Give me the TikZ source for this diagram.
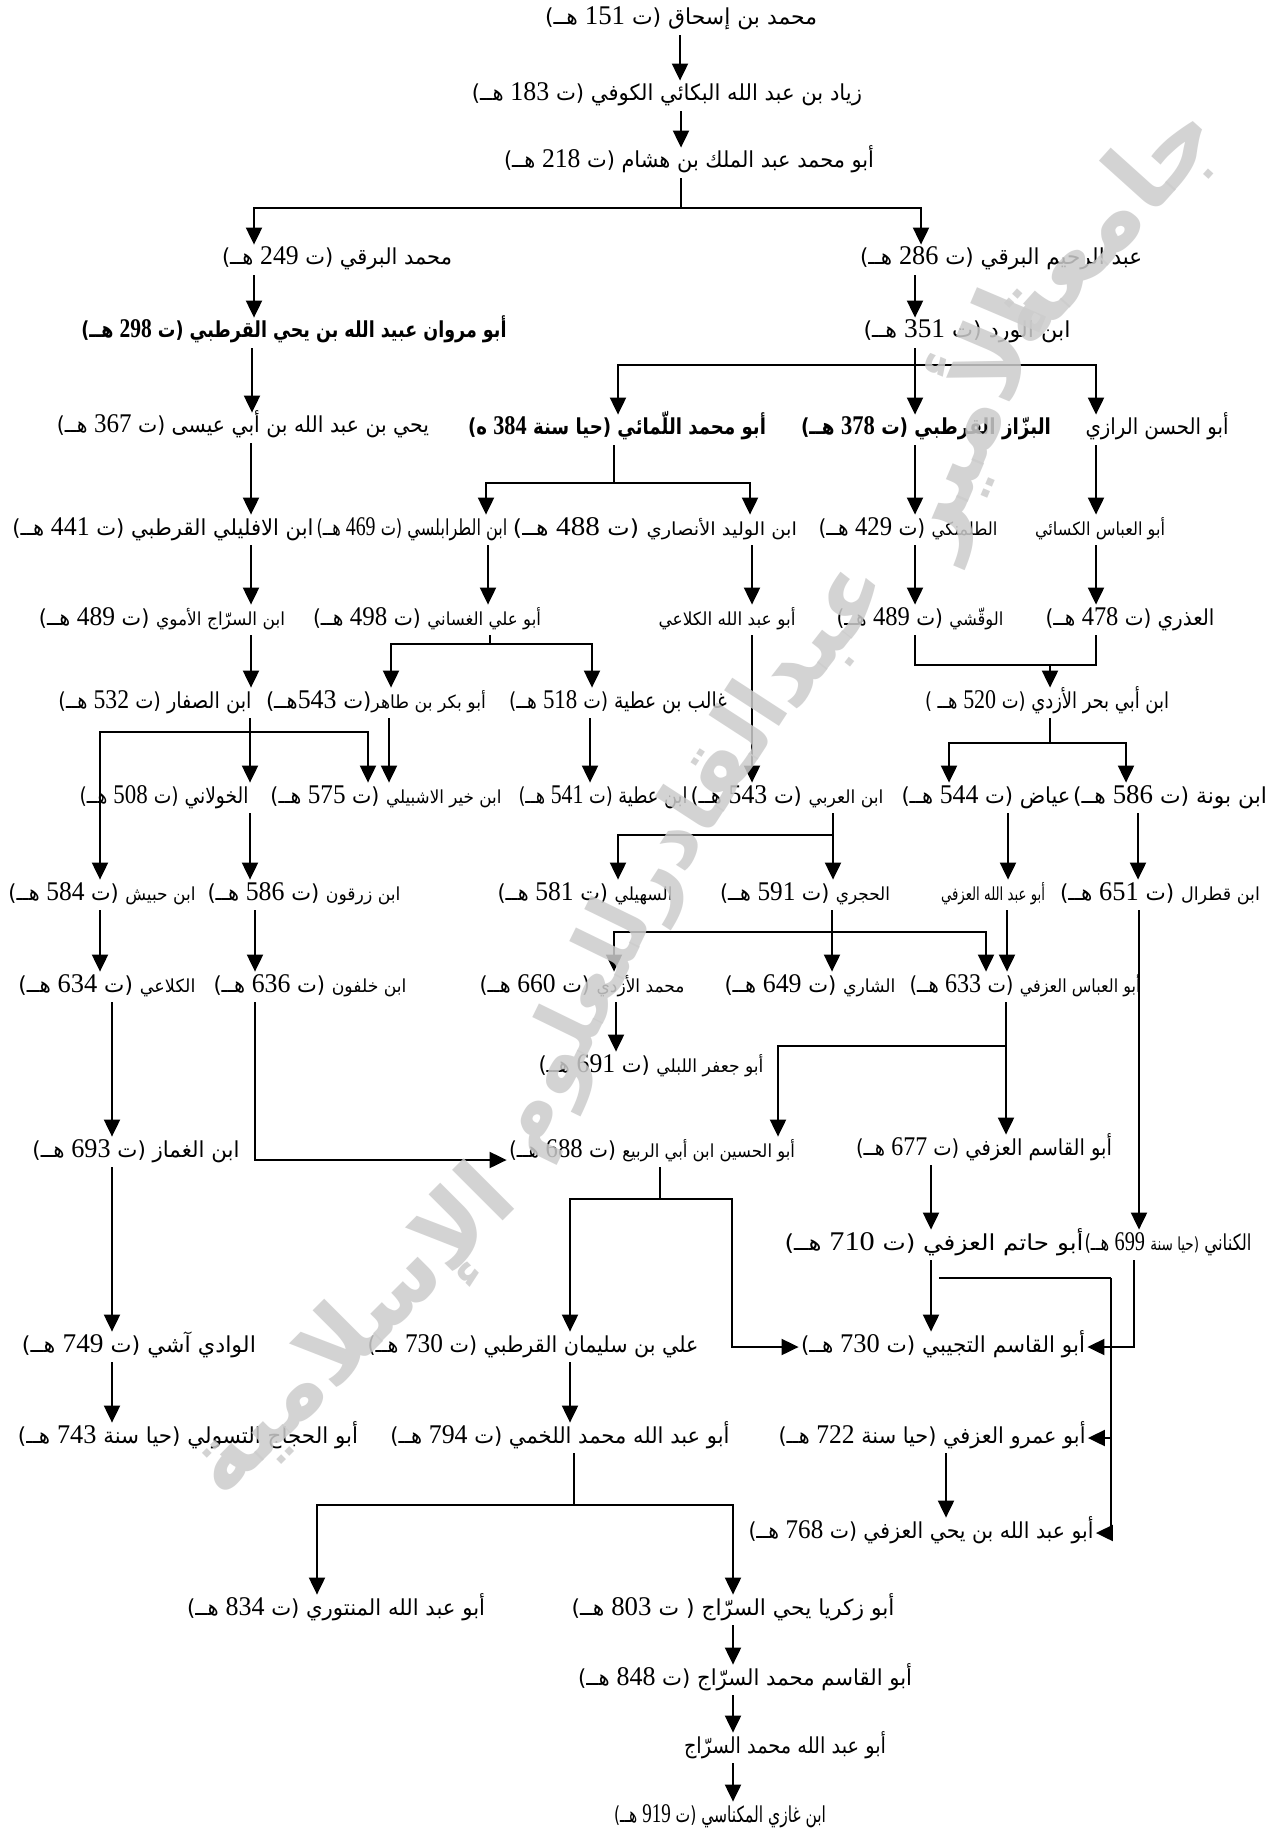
\documentclass[tikz,border=0pt]{standalone}
\usepackage{fontspec}
\usepackage{graphicx}
\TeXXeTstate=1
\newfontfamily\arfont[Script=Arabic]{DejaVu Sans}
\newfontfamily\latfont{Liberation Serif}
\usetikzlibrary{arrows.meta}
\newdimen\upx \upx=0.5pt
\newcommand\arN[2]{\resizebox{#1\upx}{\height}{\arfont #2}}
\newcommand\dg[1]{{\latfont\fontsize{13.5}{14}\selectfont #1}}
\newcommand\dte[1]{(ت \dg{#1} هــ)}
\newcommand\smf{\fontsize{9}{11}\selectfont}
\begin{document}
\begin{tikzpicture}[x=0.5pt,y=-0.5pt,
  nm/.style={inner sep=1pt, text height=9pt, text depth=4pt, font=\fontsize{11}{13}\selectfont},
  ln/.style={line width=1pt},
  arr/.style={line width=1pt, -{Triangle[width=8pt,length=8.5pt]}},
  wm/.style={text=black!20, text opacity=0.85, inner sep=0pt}]
\useasboundingbox (0,0) rectangle (1276,1834);
\fill[white] (0,0) rectangle (1276,1834);

% nodes
\node[nm] (n1) at (681,20) {\arN{272}{\beginR محمد بن إسحاق \dte{151}\endR}};
\node[nm] (n2) at (667,96) {\arN{390}{\beginR زياد بن عبد الله البكائي الكوفي \dte{183}\endR}};
\node[nm] (n3) at (689,163) {\arN{370}{\beginR أبو محمد عبد الملك بن هشام \dte{218}\endR}};
\node[nm] (barqi) at (337,260) {\arN{230}{\beginR محمد البرقي \dte{249}\endR}};
\node[nm] (rahim) at (1001,260) {\arN{282}{\beginR عبد الرحيم البرقي \dte{286}\endR}};
\node[nm] (marwan) at (294,333) {\arN{425}{\bfseries\beginR أبو مروان عبيد الله بن يحي القرطبي \dte{298}\endR}};
\node[nm] (ward) at (967,333) {\arN{207}{\beginR ابن الورد \dte{351}\endR}};
\node[nm] (yahya1) at (243,428) {\arN{372}{\beginR يحي بن عبد الله بن أبي عيسى \dte{367}\endR}};
\node[nm] (lamai) at (617,430) {\arN{298}{\bfseries\beginR أبو محمد اللّمائي (حيا سنة \dg{384} ه)\endR}};
\node[nm] (bazzaz) at (926,430) {\arN{250}{\bfseries\beginR البزّاز القرطبي \dte{378}\endR}};
\node[nm] (razi) at (1157,430) {\arN{143}{\beginR أبو الحسن الرازي\endR}};
\node[nm] (ifl) at (163,530) {\arN{301}{\beginR ابن الافليلي القرطبي \dte{441}\endR}};
\node[nm] (tarab) at (412,530) {\arN{191}{\beginR ابن الطرابلسي \dte{469}\endR}};
\node[nm] (walid) at (655,530) {\arN{284}{\beginR {\smf ابن الوليد الأنصاري} \dte{488}\endR}};
\node[nm] (talam) at (908,530) {\arN{179}{\beginR {\smf الطلمنكي} \dte{429}\endR}};
\node[nm] (kisai) at (1100,530) {\arN{130}{\smf\beginR أبو العباس الكسائي\endR}};
\node[nm] (sarraj1) at (162,620) {\arN{246}{\beginR {\smf ابن السرّاج الأموي} \dte{489}\endR}};
\node[nm] (ghassani) at (427,620) {\arN{228}{\beginR {\smf أبو علي الغساني} \dte{498}\endR}};
\node[nm] (kalai1) at (727,620) {\arN{137}{\smf\beginR أبو عبد الله الكلاعي\endR}};
\node[nm] (waqqashi) at (920,620) {\arN{167}{\beginR {\smf الوقّشي} \dte{489}\endR}};
\node[nm] (udhri) at (1130,620) {\arN{169}{\beginR العذري \dte{478}\endR}};
\node[nm] (saffar) at (155,703) {\arN{193}{\beginR ابن الصفار \dte{532}\endR}};
\node[nm] (tahir) at (376,703) {\arN{220}{\beginR {\smf أبو بكر بن طاهر}(ت \dg{543}هــ)\endR}};
\node[nm] (ghalib) at (618,703) {\arN{218}{\beginR غالب بن عطية \dte{518}\endR}};
\node[nm] (bahr) at (1047,703) {\arN{244}{\beginR ابن أبي بحر الأزدي (ت \dg{520} هــ )\endR}};
\node[nm] (khawlani) at (164,798) {\arN{169}{\beginR الخولاني \dte{508}\endR}};
\node[nm] (khayr) at (386,798) {\arN{231}{\beginR {\smf ابن خير الاشبيلي} \dte{575}\endR}};
\node[nm] (atiyya) at (603,798) {\arN{169}{\beginR ابن عطية \dte{541}\endR}};
\node[nm] (arabi) at (787,798) {\arN{193}{\beginR {\smf ابن العربي} \dte{543}\endR}};
\node[nm] (iyad) at (986,798) {\arN{169}{\beginR عياض \dte{544}\endR}};
\node[nm] (bawna) at (1170,798) {\arN{194}{\beginR ابن بونة \dte{586}\endR}};
\node[nm] (hubaysh) at (102,895) {\arN{187}{\beginR {\smf ابن حبيش} \dte{584}\endR}};
\node[nm] (zarqun) at (304,895) {\arN{193}{\beginR {\smf ابن زرقون} \dte{586}\endR}};
\node[nm] (suhayli) at (585,895) {\arN{175}{\beginR {\smf السهيلي} \dte{581}\endR}};
\node[nm] (hajri) at (805,895) {\arN{170}{\beginR {\smf الحجري} \dte{591}\endR}};
\node[nm] (azafi1) at (993,895) {\arN{104}{\smf\beginR أبو عبد الله العزفي\endR}};
\node[nm] (qatral) at (1160,895) {\arN{200}{\beginR {\smf ابن قطرال} \dte{651}\endR}};
\node[nm] (kalai2) at (107,987) {\arN{177}{\beginR {\smf الكلاعي} \dte{634}\endR}};
\node[nm] (khalfun) at (310,987) {\arN{193}{\beginR {\smf ابن خلفون} \dte{636}\endR}};
\node[nm] (azdi) at (582,987) {\arN{205}{\beginR {\smf محمد الأزدي} \dte{660}\endR}};
\node[nm] (shari) at (810,987) {\arN{171}{\beginR {\smf الشاري} \dte{649}\endR}};
\node[nm] (abbas) at (1025,987) {\arN{231}{\beginR {\smf أبو العباس العزفي} \dte{633}\endR}};
\node[nm] (labli) at (651,1067) {\arN{225}{\beginR {\smf أبو جعفر اللبلي} \dte{691}\endR}};
\node[nm] (ghammaz) at (136,1152) {\arN{207}{\beginR ابن الغماز \dte{693}\endR}};
\node[nm] (husayn) at (652,1152) {\arN{286}{\beginR {\smf أبو الحسين ابن أبي الربيع} \dte{688}\endR}};
\node[nm] (qasim) at (984,1150) {\arN{256}{\beginR أبو القاسم العزفي \dte{677}\endR}};
\node[nm] (kinani) at (1168,1245) {\arN{167}{\beginR الكناني {\smf (حيا سنة} \dg{699} هــ)\endR}};
\node[nm] (hatim) at (934,1245) {\arN{299}{\beginR أبو حاتم العزفي \dte{710}\endR}};
\node[nm] (wadi) at (139,1347) {\arN{234}{\beginR الوادي آشي \dte{749}\endR}};
\node[nm] (sulayman) at (533,1347) {\arN{331}{\beginR علي بن سليمان القرطبي \dte{730}\endR}};
\node[nm] (tujibi) at (943,1347) {\arN{284}{\beginR أبو القاسم التجيبي \dte{730}\endR}};
\node[nm] (tasuli) at (188,1438) {\arN{340}{\beginR أبو الحجاج التسولي (حيا سنة \dg{743} هــ)\endR}};
\node[nm] (lakhmi) at (560,1438) {\arN{339}{\beginR أبو عبد الله محمد اللخمي \dte{794}\endR}};
\node[nm] (amr) at (932,1438) {\arN{307}{\beginR أبو عمرو العزفي (حيا سنة \dg{722} هــ)\endR}};
\node[nm] (yahyaazafi) at (921,1533) {\arN{345}{\beginR أبو عبد الله بن يحي العزفي \dte{768}\endR}};
\node[nm] (manturi) at (336,1610) {\arN{298}{\beginR أبو عبد الله المنتوري \dte{834}\endR}};
\node[nm] (zakariya) at (733,1610) {\arN{323}{\beginR أبو زكريا يحي السرّاج ( ت \dg{803} هــ)\endR}};
\node[nm] (qasimsarraj) at (745,1680) {\arN{334}{\beginR أبو القاسم محمد السرّاج \dte{848}\endR}};
\node[nm] (abdallahsarraj) at (785,1748) {\arN{202}{\beginR أبو عبد الله محمد السرّاج\endR}};
\node[nm] (ghazi) at (720,1817) {\arN{212}{\beginR ابن غازي المكناسي \dte{919}\endR}};

% connectors
\draw[arr] (n1.south -| 680,0) -- (n2.north -| 680,0);
\draw[arr] (n2.south -| 681,0) -- (n3.north -| 681,0);
\coordinate (j1) at (681,208);
\draw[ln] (n3.south -| j1) -- (j1);
\draw[arr] (j1) -| (barqi.north -| 254,0);
\draw[arr] (j1) -| (rahim.north -| 921,0);
\draw[arr] (barqi.south -| 254,0) -- (marwan.north -| 254,0);
\draw[arr] (rahim.south -| 915,0) -- (ward.north -| 915,0);
\draw[arr] (marwan.south -| 252,0) -- (yahya1.north -| 252,0);
\coordinate (j2) at (915,365);
\draw[arr] (ward.south -| j2) -- (bazzaz.north -| j2);
\draw[arr] (j2) -| (lamai.north -| 618,0);
\draw[arr] (j2) -| (razi.north -| 1096,0);
\draw[arr] (yahya1.south -| 251,0) -- (ifl.north -| 251,0);
\coordinate (j3) at (614,483);
\draw[ln] (lamai.south -| j3) -- (j3);
\draw[arr] (j3) -| (tarab.north -| 486,0);
\draw[arr] (j3) -| (walid.north -| 750,0);
\draw[arr] (bazzaz.south -| 915,0) -- (talam.north -| 915,0);
\draw[arr] (razi.south -| 1096,0) -- (kisai.north -| 1096,0);
\draw[arr] (ifl.south -| 251,0) -- (sarraj1.north -| 251,0);
\draw[arr] (tarab.south -| 488,0) -- (ghassani.north -| 488,0);
\draw[arr] (walid.south -| 752,0) -- (kalai1.north -| 752,0);
\draw[arr] (talam.south -| 915,0) -- (waqqashi.north -| 915,0);
\draw[arr] (kisai.south -| 1096,0) -- (udhri.north -| 1096,0);
\draw[arr] (sarraj1.south -| 251,0) -- (saffar.north -| 251,0);
\coordinate (j4) at (490,644);
\draw[ln] (ghassani.south -| j4) -- (j4);
\draw[arr] (j4) -| (tahir.north -| 391,0);
\draw[arr] (j4) -| (ghalib.north -| 592,0);
\draw[arr] (kalai1.south -| 752,0) -- (arabi.north -| 752,0);
\coordinate (j5) at (1050,665);
\draw[ln] (waqqashi.south -| 915,0) |- (j5);
\draw[ln] (udhri.south -| 1096,0) |- (j5);
\draw[arr] (j5) -- (bahr.north -| j5);
\coordinate (j6) at (250,732);
\draw[arr] (saffar.south -| j6) -- (khawlani.north -| j6);
\draw[arr] (j6) -| (hubaysh.north -| 100,0);
\draw[arr] (j6) -| (khayr.north -| 368,0);
\draw[arr] (tahir.south -| 389,0) -- (khayr.north -| 389,0);
\draw[arr] (ghalib.south -| 590,0) -- (atiyya.north -| 590,0);
\coordinate (j7) at (1050,743);
\draw[ln] (bahr.south -| j7) -- (j7);
\draw[arr] (j7) -| (iyad.north -| 949,0);
\draw[arr] (j7) -| (bawna.north -| 1126,0);
\draw[arr] (khawlani.south -| 250,0) -- (zarqun.north -| 250,0);
\coordinate (j8) at (833,835);
\draw[arr] (arabi.south -| j8) -- (hajri.north -| j8);
\draw[arr] (j8) -| (suhayli.north -| 618,0);
\draw[arr] (iyad.south -| 1008,0) -- (azafi1.north -| 1008,0);
\draw[arr] (bawna.south -| 1138,0) -- (qatral.north -| 1138,0);
\draw[arr] (hubaysh.south -| 100,0) -- (kalai2.north -| 100,0);
\draw[arr] (zarqun.south -| 255,0) -- (khalfun.north -| 255,0);
\coordinate (j9) at (832,932);
\draw[arr] (hajri.south -| j9) -- (shari.north -| j9);
\draw[arr] (j9) -| (azdi.north -| 614,0);
\draw[arr] (j9) -| (abbas.north -| 986,0);
\draw[arr] (azafi1.south -| 1007,0) -- (abbas.north -| 1007,0);
\draw[arr] (qatral.south -| 1139,0) -- (kinani.north -| 1139,0);
\draw[arr] (azdi.south -| 616,0) -- (labli.north -| 616,0);
\coordinate (j10) at (1006,1046);
\draw[arr] (abbas.south -| j10) -- (qasim.north -| j10);
\draw[arr] (j10) -| (husayn.north -| 778,0);
\draw[arr] (kalai2.south -| 112,0) -- (ghammaz.north -| 112,0);
\draw[arr] (khalfun.south -| 255,0) |- ([yshift=-4pt]husayn.west);
\draw[arr] (ghammaz.south -| 112,0) -- (wadi.north -| 112,0);
\coordinate (j11) at (660,1199);
\draw[ln] (husayn.south -| j11) -- (j11);
\draw[arr] (j11) -| (sulayman.north -| 570,0);
\coordinate (j12) at (732,1347);
\draw[arr] (j11) -| (j12) -- (tujibi.west);
\draw[arr] (qasim.south -| 931,0) -- (hatim.north -| 931,0);
\draw[arr] (hatim.south -| 931,0) -- (tujibi.north -| 931,0);
\draw[arr] (kinani.south -| 1134,0) |- (tujibi.east);
\coordinate (h0) at (939,1278);
\coordinate (h1) at (1111,1278);
\draw[ln] (h0) -- (h1);
\draw[arr] (h1) |- (amr.east);
\draw[arr] (h1) |- (yahyaazafi.east);
\draw[arr] (wadi.south -| 112,0) -- (tasuli.north -| 112,0);
\draw[arr] (sulayman.south -| 570,0) -- (lakhmi.north -| 570,0);
\draw[arr] (amr.south -| 946,0) -- (yahyaazafi.north -| 946,0);
\coordinate (j13) at (574,1505);
\draw[ln] (lakhmi.south -| j13) -- (j13);
\draw[arr] (j13) -| (manturi.north -| 317,0);
\draw[arr] (j13) -| (zakariya.north -| 733,0);
\draw[arr] (zakariya.south -| 733,0) -- (qasimsarraj.north -| 733,0);
\draw[arr] (qasimsarraj.south -| 733,0) -- (abdallahsarraj.north -| 733,0);
\draw[arr] (abdallahsarraj.south -| 733,0) -- (ghazi.north -| 733,0);

% watermark
\node[wm, rotate=48] (w1) at (1105,225) {\resizebox{290\upx}{!}{\arfont\bfseries\beginR جامعة\endR}};
\node[wm, rotate=67] (w2) at (965,420) {\resizebox{270\upx}{!}{\arfont\bfseries\beginR الأمير\endR}};
\node[wm, rotate=52] (w3) at (830,640) {\resizebox{160\upx}{!}{\arfont\bfseries\beginR عبد\endR}};
\node[wm, rotate=57] (w4) at (705,800) {\resizebox{250\upx}{!}{\arfont\bfseries\beginR القادر\endR}};
\node[wm, rotate=64] (w5) at (575,1030) {\resizebox{270\upx}{!}{\arfont\bfseries\beginR للعلوم\endR}};
\node[wm, rotate=45] (w6) at (355,1335) {\resizebox{420\upx}{!}{\arfont\bfseries\beginR الإسلامية\endR}};
\end{tikzpicture}
\end{document}
